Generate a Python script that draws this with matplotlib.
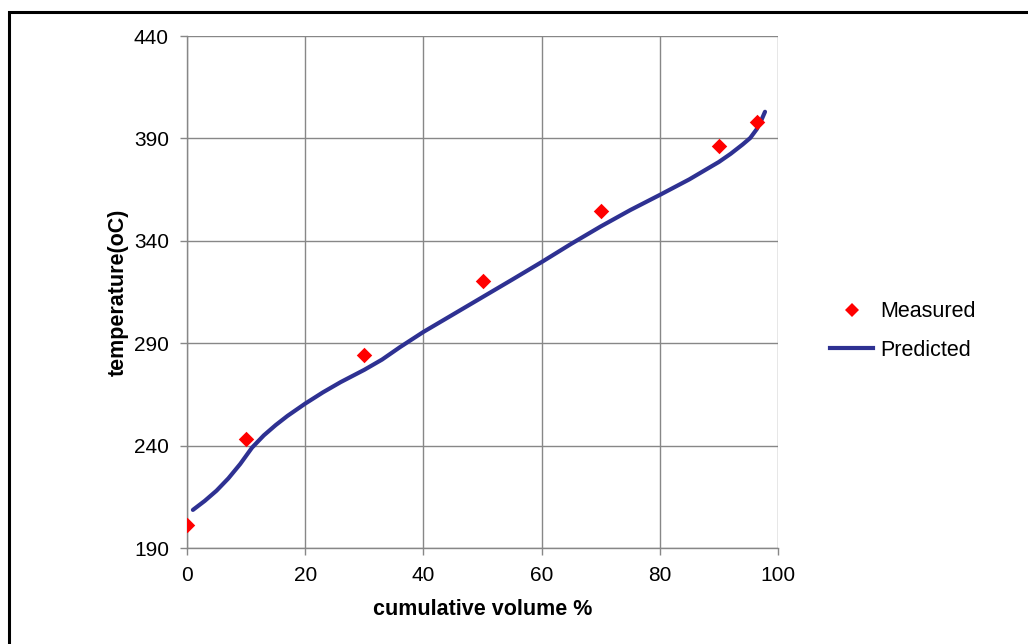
import matplotlib.pyplot as plt
from matplotlib.patches import Rectangle
from matplotlib.lines import Line2D

plt.rcParams['font.family'] = ['Liberation Sans', 'DejaVu Sans']

# measured points
meas_x = [0, 10, 30, 50, 70, 90, 96.5]
meas_y = [201, 243, 284, 320.5, 354.5, 386.5, 398]

# predicted curve
pred_x = [1, 3, 5, 7, 9, 11, 13, 15, 17, 20, 23, 26, 30, 33, 36, 40, 45, 50,
          55, 60, 65, 70, 75, 80, 85, 90, 92, 94, 95.3, 96.4, 97.2, 97.8]
pred_y = [208.6, 213, 218, 224, 231, 239, 245, 250, 254.5, 260.5, 266, 271,
          277, 282, 288, 295.5, 304, 312.5, 321, 329.6, 338.5, 347, 355, 362.4,
          370, 378.5, 382.5, 387, 390.2, 394.5, 399, 403]

grid_c = '#878787'

fig = plt.figure(figsize=(10.28, 6.44), dpi=100)
fig.patches.append(Rectangle((9 / 1028, -0.05), 1.1, 1 - 12 / 644 + 0.05,
                             transform=fig.transFigure, fill=False,
                             edgecolor='black', linewidth=2.2))

ax = fig.add_axes([187 / 1028, (644 - 548) / 644, 591 / 1028, 512 / 644])
ax.plot(pred_x, pred_y, color='#2e3192', linewidth=3, solid_capstyle='round',
        solid_joinstyle='round', label='Predicted', zorder=3)
ax.scatter(meas_x, meas_y, marker='D', s=62, color='#ff0000', label='Measured',
           zorder=4, linewidths=0)

ax.set_xlim(0, 100)
ax.set_ylim(190, 440)
ax.set_xticks(range(0, 101, 20))
ax.set_yticks(range(190, 441, 50))
ax.grid(True, color=grid_c, linewidth=1)
ax.set_axisbelow(True)
for s in ['top', 'right']:
    ax.spines[s].set_visible(False)
for s in ['left', 'bottom']:
    ax.spines[s].set_color(grid_c)
    ax.spines[s].set_linewidth(1)
ax.tick_params(colors=grid_c, labelcolor='black', labelsize=15, length=5,
               width=1, pad=8)

ax.set_xlabel('cumulative volume %', fontsize=15.5, fontweight='bold', labelpad=10)
ax.set_ylabel('temperature(oC)', fontsize=15.5, fontweight='bold', labelpad=4)

handles = [Line2D([], [], marker='D', color='#ff0000', linestyle='none',
                  markersize=7.5, markeredgewidth=0),
           Line2D([], [], color='#2e3192', linewidth=3)]
fig.legend(handles, ['Measured', 'Predicted'], loc='center left',
           bbox_to_anchor=(830 / 1028, 1 - 331 / 644), frameon=False,
           fontsize=15.5, handlelength=2.0, handletextpad=0.33,
           labelspacing=0.82, borderpad=0, borderaxespad=0)

fig.savefig('out.png', dpi=100)
